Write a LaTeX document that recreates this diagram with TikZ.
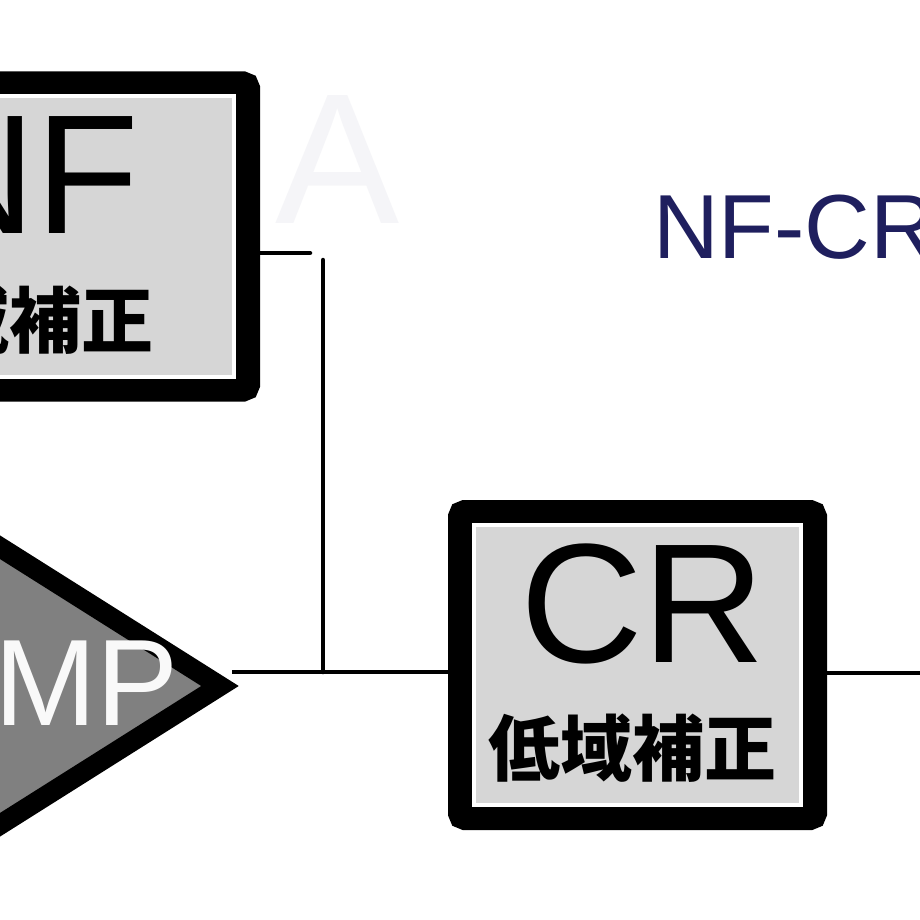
\documentclass[tikz,border=0pt]{standalone}
\usepackage{fontspec}
\setmainfont{Liberation Sans}
\newfontfamily\jpfont{Noto Sans CJK JP}
\definecolor{boxgray}{HTML}{D6D6D6}
\definecolor{ampgray}{HTML}{808080}
\definecolor{navy}{HTML}{1F1F5E}
\definecolor{faint}{HTML}{F5F5F8}
\begin{document}
\begin{tikzpicture}[x=1pt,y=-1pt,
  frame/.style={draw=black, line width=24pt, fill=boxgray, rounded corners=5pt,
    minimum width=355pt, minimum height=306pt, inner sep=0pt},
  innerline/.style={draw=white, line width=4pt, minimum width=327pt,
    minimum height=280pt, inner sep=0pt},
  wire/.style={draw=black, line width=4.5pt, line cap=round},
  big/.style={inner sep=0pt, font=\fontsize{170}{170}\selectfont},
  sub/.style={inner sep=0pt, font=\jpfont\bfseries\fontsize{72}{72}\selectfont}]
\clip (0,0) rectangle (920,920);
\fill[white] (0,0) rectangle (920,920);
% faint A
\node[inner sep=0pt, anchor=base, text=faint, font=\fontsize{186}{186}\selectfont] (fa) at (338,223) {A};
% NF box
\node[frame] (nf) at (70.5,236.5) {};
\node[innerline] (nfi) at (nf.center) {};
\node[big, anchor=base east] (nft) at (140,233) {NF};
\node[sub, anchor=east] (nfs) at (154,320) {高域補正};
% CR box
\node[frame] (cr) at (637.5,665) {};
\node[innerline] (cri) at (cr.center) {};
\node[big, anchor=base] (crt) at (643,662) {CR};
\node[sub] (crs) at (632,748) {低域補正};
% AMP triangle
\path[draw=black, fill=ampgray, line width=20pt, line join=miter]
  (-300,358) -- (220,686) -- (-300,1014) -- cycle;
\node[inner sep=0pt, anchor=base east, text=white!95!gray, font=\fontsize{123}{123}\selectfont] (ampt) at (179,725) {AMP};
\coordinate (amptip) at (232,672);
% title
\node[inner sep=0pt, anchor=base west, text=navy, font=\fontsize{91}{91}\selectfont] (title) at (653,258) {NF-CR};
% wires
\coordinate (nfa) at (310,253);
\coordinate (jtop) at (323,260);
\coordinate (junc) at (323,672);
\coordinate (out) at (930,673);
\draw[wire] (nf.east |- nfa) -- (nfa);
\draw[wire] (jtop) -- (junc);
\draw[wire, line cap=butt] (amptip) -- (cr.west |- junc);
\draw[wire, line cap=butt] (cr.east |- out) -- (out);
\end{tikzpicture}
\end{document}
